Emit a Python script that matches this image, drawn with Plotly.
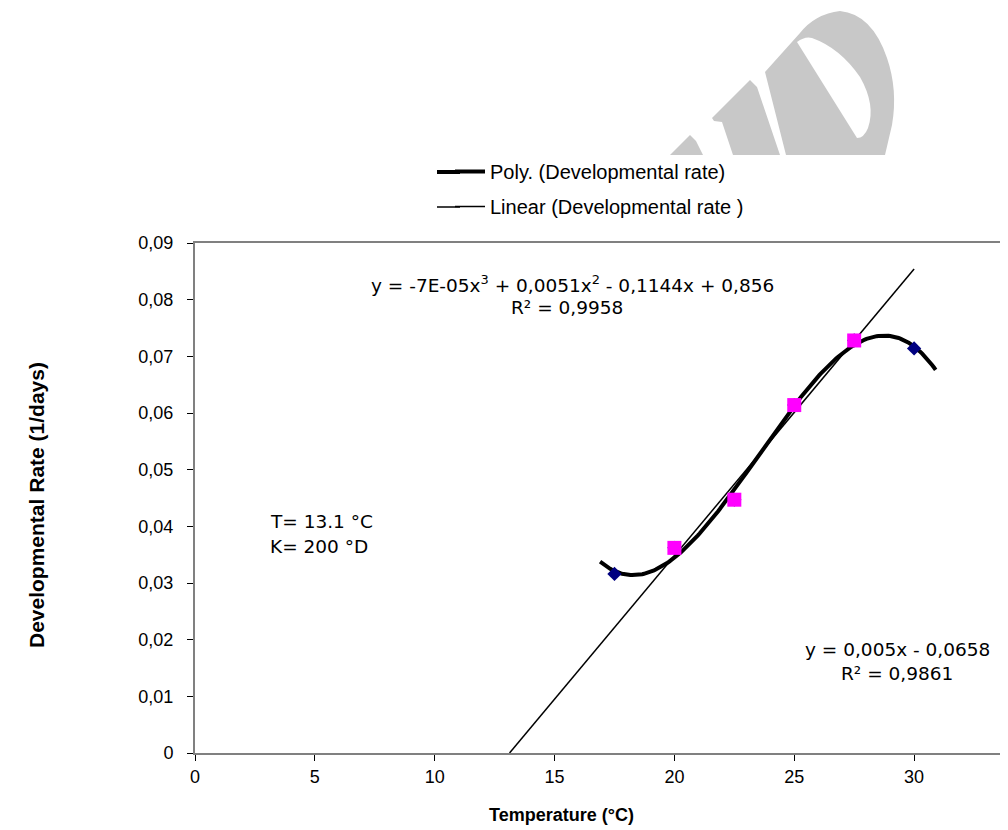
import base64
import numpy as np
import plotly.graph_objects as go

# ---- data ----
temp_all = [17.5, 20, 22.5, 25, 27.5, 30]
rate_all = [0.0316, 0.0362, 0.0447, 0.0614, 0.0728, 0.0714]
temp_lin = [20, 22.5, 25, 27.5]
rate_lin = [0.0362, 0.0447, 0.0614, 0.0728]
poly_range = [16.9, 30.9]
lin_end = 30
x_ticks = [0, 5, 10, 15, 20, 25, 30]
y_ticks = [0, 0.01, 0.02, 0.03, 0.04, 0.05, 0.06, 0.07, 0.08, 0.09]
y_ticktext = ["0", "0,01", "0,02", "0,03", "0,04", "0,05", "0,06", "0,07", "0,08", "0,09"]

# trendlines fitted from the data (as the spreadsheet does)
pc = np.polyfit(temp_all, rate_all, 3)
px = np.linspace(poly_range[0], poly_range[1], 200)
py = np.polyval(pc, px)
lc = np.polyfit(temp_lin, rate_lin, 1)
lx = np.array([-lc[1] / lc[0], lin_end])
ly = np.polyval(lc, lx)

FONT = "Liberation Sans, Arial, sans-serif"
WIDE = "DejaVu Sans, Verdana, sans-serif"

fig = go.Figure()
fig.add_trace(go.Scatter(x=px, y=py, mode="lines", name="Poly. (Developmental rate)",
                         line=dict(color="black", width=4), legendgroup="a"))
fig.add_trace(go.Scatter(x=lx, y=ly, mode="lines", name="Linear (Developmental rate )",
                         line=dict(color="black", width=1.5), legendgroup="b"))
fig.add_trace(go.Scatter(x=temp_all, y=rate_all, mode="markers", showlegend=False,
                         marker=dict(symbol="diamond", size=11, color="#000080")))
fig.add_trace(go.Scatter(x=temp_lin, y=rate_lin, mode="markers", showlegend=False,
                         marker=dict(symbol="square", size=14, color="#FF00FF")))

OFF = 8  # page body margin
W, H = 1008 - OFF, 830 - OFF
# plot area in page pixels: x 195..1008, y 243..753
L, T = 195 - OFF, 243 - OFF
R, B = 0, H - (753 - OFF)
pw, ph = W - L - R, H - T - B

def px2paper(x, y):
    # x, y are page pixel coordinates
    return (x - OFF - L) / pw, (H - B - (y - OFF)) / ph

annots = []
def add_text(text, x, y, size=18, bold=False, xanchor="center", angle=0, family=FONT):
    xp, yp = px2paper(x, y)
    annots.append(dict(text=("<b>%s</b>" % text) if bold else text, x=xp, y=yp,
                       xref="paper", yref="paper", showarrow=False, xanchor=xanchor,
                       yanchor="middle", textangle=angle,
                       font=dict(family=family, size=size, color="black")))

add_text("y = -7E-05x<sup>3</sup> + 0,0051x<sup>2</sup> - 0,1144x + 0,856", 572, 284, size=18.5, family=WIDE)
add_text("R² = 0,9958", 567, 307, size=18.5, family=WIDE)
add_text("y = 0,005x - 0,0658", 897, 649, size=18.5, family=WIDE)
add_text("R² = 0,9861", 897, 673, size=18.5, family=WIDE)
add_text("T= 13.1 °C", 268, 521, xanchor="left", size=18.5, family=WIDE)
add_text("K= 200 °D", 268, 546, xanchor="left", size=18.5, family=WIDE)
add_text("Temperature (°C)", 561, 815, size=18, bold=True)
add_text("Developmental Rate (1/days)", 36, 505, size=21, bold=True, angle=-90)

# watermark fragment (grey letter pieces cut off at the legend area)
svg = ('<svg xmlns="http://www.w3.org/2000/svg" width="260" height="155" viewBox="0 0 260 155">'
       '<g fill="#c8c8c8" fill-rule="evenodd">'
       '<path d="M30,155 L50,135 L56,141 L63,155 Z"/>'
       '<path d="M72,118 L110,80 L117,87 L140,155 L93,155 L82,122 L74,121 Z"/>'
       '<path d="M125,72 L160,33 Q175,14 200,11 Q232,14 247,58 Q258,90 252,125 L245,155 L146,155 Z '
       'M157,42 Q165,36 172,38 Q200,48 220,77 Q236,105 228,128 Q224,138 217,138 Z"/>'
       '</g></svg>')
src = "data:image/svg+xml;base64," + base64.b64encode(svg.encode()).decode()
ix, iy = px2paper(640, 0)

# legend sample extensions (reference samples are longer than plotly's)
shapes = []
for yy, wd in [(172, 4), (207, 1.5)]:
    x0, y0 = px2paper(437, yy)
    x1, _ = px2paper(460, yy)
    shapes.append(dict(type="line", xref="paper", yref="paper", x0=x0, x1=x1, y0=y0, y1=y0,
                       line=dict(color="black", width=wd)))

lgx, lgy = px2paper(450, 152)
fig.update_layout(
    width=W, height=H,
    margin=dict(l=L, r=R, t=T, b=B),
    paper_bgcolor="white", plot_bgcolor="white",
    font=dict(family=FONT, size=18, color="black"),
    annotations=annots,
    shapes=shapes,
    images=[dict(source=src, xref="paper", yref="paper", x=ix, y=iy,
                 sizex=260 / pw, sizey=155 / ph, xanchor="left", yanchor="top",
                 sizing="stretch", layer="above")],
    legend=dict(x=lgx, y=lgy, xanchor="left", yanchor="top",
                font=dict(family=FONT, size=20, color="black"),
                tracegroupgap=6, bgcolor="rgba(0,0,0,0)"),
    showlegend=True,
)
fig.update_xaxes(range=[0, pw / 23.97], tickvals=x_ticks, showgrid=False, zeroline=False,
                 showline=True, linecolor="#808080", linewidth=2, mirror=True,
                 ticks="outside", ticklen=6, tickcolor="black",
                 tickfont=dict(family=FONT, size=18))
fig.update_yaxes(range=[0, 0.09], tickvals=y_ticks, ticktext=y_ticktext, showgrid=False,
                 zeroline=False, showline=True, linecolor="#808080", linewidth=2,
                 ticks="outside", ticklen=6, tickcolor="black", ticklabelstandoff=10,
                 tickfont=dict(family=FONT, size=18))

fig.write_html("out.html")
